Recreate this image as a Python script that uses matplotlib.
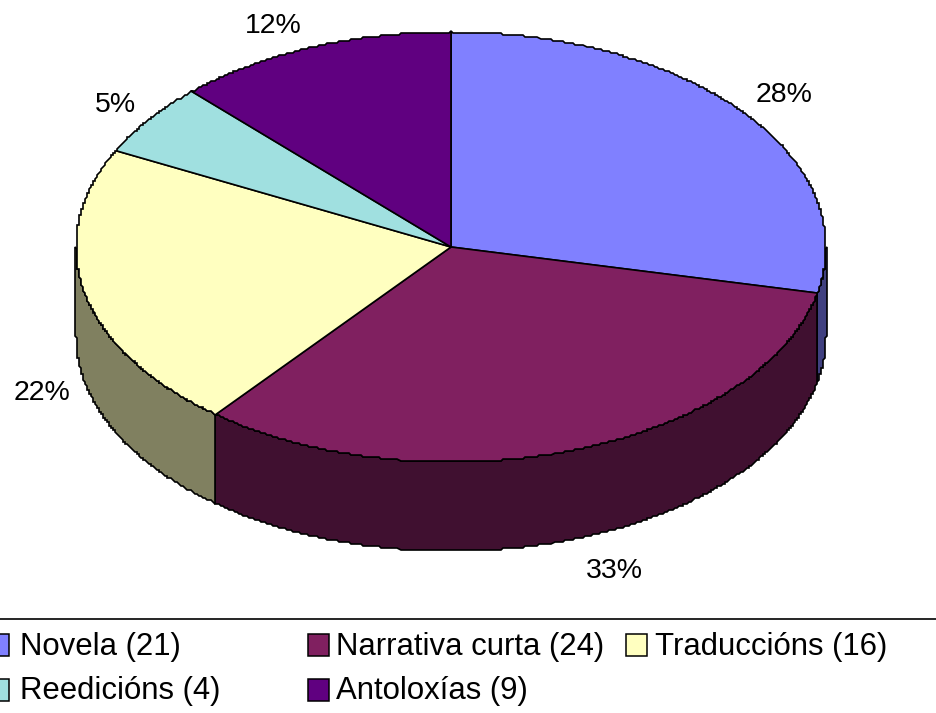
import numpy as np
import matplotlib
matplotlib.use('Agg')
import matplotlib.pyplot as plt
from matplotlib.patches import Polygon, Rectangle

categories = ['Novela', 'Narrativa curta', 'Traduccións', 'Reedicións', 'Antoloxías']
values = [21, 24, 16, 4, 9]
pct_labels = ['28%', '33%', '22%', '5%', '12%']
top_colors = ['#8080FF', '#802060', '#FFFFC0', '#A0E0E0', '#600080']
side_colors = ['#404080', '#401030', '#808060', '#507070', '#300040']

cx, cy = 451, 247
rx, ry = 375, 215
depth = 89

plt.rcParams['font.family'] = ['Liberation Sans', 'DejaVu Sans']


def rim(a0, a1, dy=0):
    # angles in degrees, clockwise from the top
    t = np.radians(np.linspace(a0, a1, max(int(abs(a1 - a0) * 3), 2)))
    x = rx * np.sin(t)
    y = -ry * np.cos(t)
    # snapped to a coarse grid, the reference outline is stepped like this
    return np.column_stack([cx + np.round(x / 2) * 2, cy + np.round(y / 2) * 2 + dy])


fig = plt.figure(figsize=(9.36, 7.13), dpi=100)
ax = fig.add_axes([0, 0, 1, 1])
ax.set_xlim(0, 936)
ax.set_ylim(713, 0)
ax.axis('off')

edges = np.cumsum([0] + values) / sum(values) * 360

# sides, only the front half of the disc shows
for i in range(len(values)):
    a0, a1 = max(edges[i], 90), min(edges[i + 1], 270)
    if a1 <= a0:
        continue
    pts = np.vstack([rim(a0, a1), rim(a0, a1, depth)[::-1]])
    ax.add_patch(Polygon(pts, closed=True, fc=side_colors[i], ec='black', lw=1.2, zorder=1))

# top face
for i in range(len(values)):
    pts = np.vstack([[cx, cy], rim(edges[i], edges[i + 1])])
    ax.add_patch(Polygon(pts, closed=True, fc=top_colors[i], ec='black', lw=1.2, zorder=2))

# percent labels
label_x = [784, 614, 42, 115, 273]
label_y = [102, 578, 400, 112, 33]
for s, x, y in zip(pct_labels, label_x, label_y):
    ax.text(x, y, s, fontsize=20.5, ha='center', va='baseline', color='black')

# legend
ax.add_patch(Rectangle((-5, 619), 950, 120, fc='white', ec='black', lw=1.2, zorder=3))
swatch_x = [-12, 308, 626, -12, 308]
swatch_y = [634, 634, 634, 679, 679]
text_x = [20, 336, 655, 20, 336]
text_y = [655, 655, 655, 699, 699]
for i, c in enumerate(categories):
    ax.add_patch(Rectangle((swatch_x[i], swatch_y[i]), 21, 22, fc=top_colors[i], ec='black',
                           lw=1.1, zorder=4))
    ax.text(text_x[i], text_y[i], '%s (%d)' % (c, values[i]), fontsize=22.4,
            ha='left', va='baseline', color='black', zorder=4)

fig.savefig('out.png', dpi=100)
